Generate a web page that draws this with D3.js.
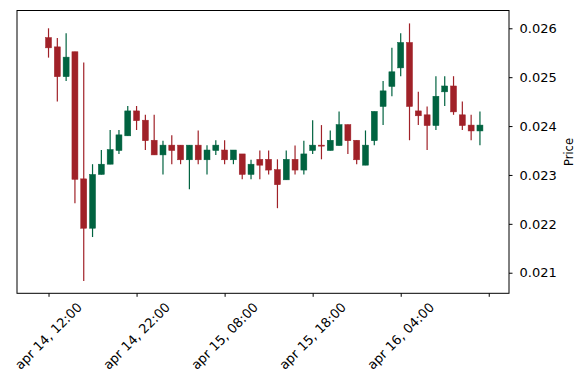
<!DOCTYPE html>
<html><head><meta charset="utf-8">
<script src="https://cdn.jsdelivr.net/npm/d3@7"></script>
<style>
html,body{margin:0;padding:0;background:#fff;}
text{font-family:"DejaVu Sans",sans-serif;}
</style></head>
<body><svg id="c" width="588" height="390"></svg>
<script>
const opens  = [0.02581,0.02562,0.02501,0.02552,0.02292,0.02191,0.02301,0.02322,0.02350,0.02380,
                0.02431,0.02412,0.02371,0.02341,0.02361,0.02361,0.02331,0.02361,0.02331,0.02350,
                0.02351,0.02331,0.02343,0.02301,0.02332,0.02332,0.02311,0.02290,0.02332,0.02310,
                0.02350,0.02361,0.02350,0.02360,0.02403,0.02371,0.02320,0.02370,0.02440,0.02481,
                0.02519,0.02571,0.02431,0.02423,0.02401,0.02470,0.02482,0.02423,0.02402,0.02390];
const highs  = [0.02600,0.02580,0.02590,0.02552,0.02530,0.02322,0.02351,0.02392,0.02392,0.02441,
                0.02441,0.02423,0.02423,0.02370,0.02381,0.02361,0.02361,0.02391,0.02361,0.02371,
                0.02371,0.02351,0.02343,0.02331,0.02350,0.02350,0.02332,0.02350,0.02360,0.02370,
                0.02412,0.02402,0.02391,0.02430,0.02403,0.02371,0.02391,0.02430,0.02492,0.02560,
                0.02590,0.02610,0.02470,0.02440,0.02502,0.02502,0.02502,0.02450,0.02423,0.02430];
const lows   = [0.02540,0.02450,0.02492,0.02242,0.02083,0.02173,0.02301,0.02322,0.02343,0.02380,
                0.02392,0.02351,0.02341,0.02301,0.02322,0.02322,0.02271,0.02322,0.02301,0.02341,
                0.02322,0.02322,0.02291,0.02291,0.02291,0.02301,0.02232,0.02290,0.02301,0.02301,
                0.02343,0.02332,0.02350,0.02360,0.02343,0.02322,0.02320,0.02361,0.02402,0.02461,
                0.02502,0.02371,0.02402,0.02351,0.02392,0.02441,0.02423,0.02392,0.02371,0.02361];
const closes = [0.02560,0.02501,0.02541,0.02291,0.02191,0.02301,0.02322,0.02352,0.02382,0.02431,
                0.02411,0.02370,0.02341,0.02361,0.02350,0.02331,0.02361,0.02331,0.02351,0.02361,
                0.02331,0.02351,0.02301,0.02322,0.02320,0.02310,0.02280,0.02332,0.02310,0.02343,
                0.02361,0.02360,0.02371,0.02403,0.02370,0.02331,0.02361,0.02430,0.02472,0.02511,
                0.02571,0.02440,0.02421,0.02401,0.02461,0.02482,0.02429,0.02401,0.02390,0.02402];
const tickIndex  = [0,10,20,30,40,50];
const tickLabels = ["apr 14, 12:00","apr 14, 22:00","apr 15, 08:00","apr 15, 18:00","apr 16, 04:00",""];
const yTicks = [0.021,0.022,0.023,0.024,0.025,0.026];

const UP = "#006340", DOWN = "#a02128";
const L = 17, R = 509, T = 10.5, B = 293.3;
const svg = d3.select("#c");
const x = d3.scaleLinear().domain([-3.58, 52.3]).range([L, R]);
const y = d3.scaleLinear().domain([0.020579, 0.026364]).range([B, T]);

const data = opens.map((o,i)=>({i, o, h:highs[i], l:lows[i], c:closes[i]}));
const g = svg.append("g");
g.selectAll("line.w").data(data).join("line")
  .attr("x1", d=>x(d.i)).attr("x2", d=>x(d.i))
  .attr("y1", d=>y(d.h)).attr("y2", d=>y(d.l))
  .attr("stroke", d=>d.c>=d.o?UP:DOWN).attr("stroke-width",1.2);
const bw = (x(1)-x(0))*0.68;
g.selectAll("rect").data(data).join("rect")
  .attr("x", d=>x(d.i)-bw/2).attr("width", bw)
  .attr("y", d=>y(Math.max(d.o,d.c)))
  .attr("height", d=>Math.max(1, Math.abs(y(d.o)-y(d.c))))
  .attr("fill", d=>d.c>=d.o?UP:DOWN)
  .attr("stroke", d=>d.c>=d.o?UP:DOWN).attr("stroke-width",0.5);

// frame
svg.append("rect").attr("x",L).attr("y",T).attr("width",R-L).attr("height",B-T)
  .attr("fill","none").attr("stroke","#000").attr("stroke-width",1);

// y axis right
const ya = svg.append("g").attr("transform",`translate(${R},0)`)
  .call(d3.axisRight(y).tickValues(yTicks).tickFormat(d3.format(".3f")).tickSize(3.5).tickPadding(7));
ya.select(".domain").remove();
ya.selectAll("text").attr("font-size","13px").attr("fill","#000").attr("font-family","DejaVu Sans");

// x axis
const xa = svg.append("g").attr("transform",`translate(0,${B})`)
  .call(d3.axisBottom(x).tickValues(tickIndex).tickFormat("").tickSize(3.5));
xa.select(".domain").remove();
svg.append("g").selectAll("text").data(tickIndex).join("text")
  .attr("transform",(d)=>`translate(${x(d)},336) rotate(-45)`)
  .attr("text-anchor","middle").attr("dominant-baseline","central")
  .attr("font-size","13px").attr("fill","#000")
  .text((d,i)=>tickLabels[i]);

svg.append("text").attr("transform",`translate(569,152) rotate(-90)`)
  .attr("text-anchor","middle").attr("dominant-baseline","central")
  .attr("font-size","11.5px").attr("fill","#000").text("Price");
</script></body></html>
